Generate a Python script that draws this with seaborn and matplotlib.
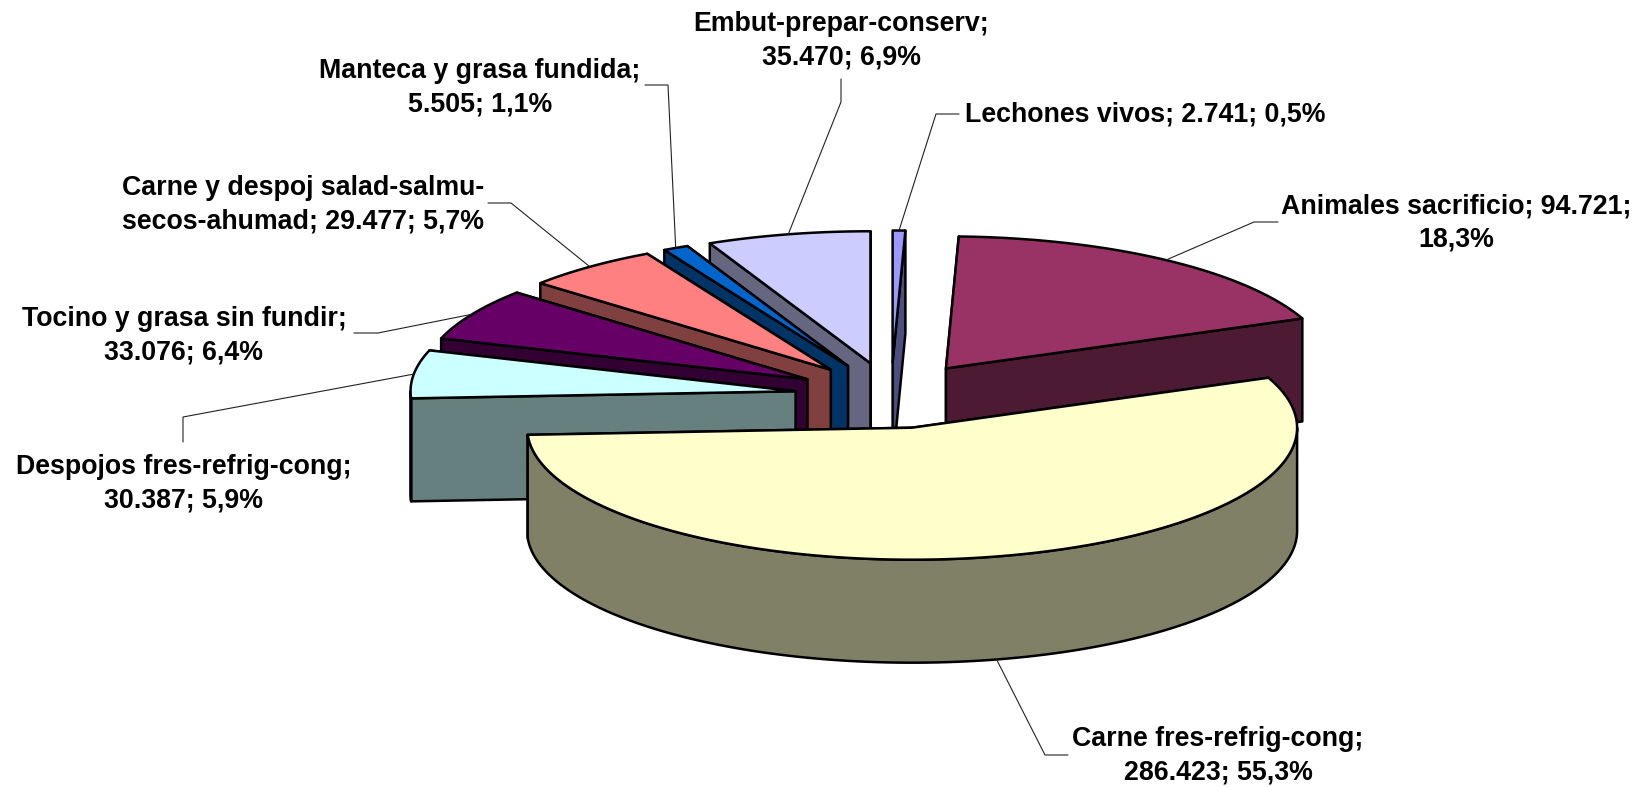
import numpy as np
import matplotlib
matplotlib.use("Agg")
import matplotlib.pyplot as plt
import seaborn as sns

# data, clockwise from 12 o'clock
names = ["Lechones vivos", "Animales sacrificio", "Carne fres-refrig-cong",
         "Despojos fres-refrig-cong", "Tocino y grasa sin fundir",
         "Carne y despoj salad-salmu-\nsecos-ahumad", "Manteca y grasa fundida",
         "Embut-prepar-conserv"]
values = [2741, 94721, 286423, 30387, 33076, 29477, 5505, 35470]
top_colors = ["#9999FF", "#993366", "#FFFFCC", "#CCFFFF", "#660066", "#FF8080", "#0066CC", "#CCCCFF"]

# where the label line breaks: after the name, after the value
breaks = [(" ", " "), (" ", "\n"), ("\n", " "), ("\n", " "), ("\n", " "), (" ", " "), ("\n", " "), ("\n", " ")]

# label centres and the two outer points of each leader (pixels of the figure)
label_xy = [(1145, 115), (1456, 223), (1218, 756), (184, 484), (184, 336), (303, 205), (480, 88), (841, 41)]
leader_pts = [[(959, 114), (936, 114)], [(1278, 222), (1254, 222)], [(1068, 755), (1045, 755)],
              [(183, 442), (183, 417)], [(354, 333), (378, 333)], [(488, 203), (511, 203)],
              [(645, 85), (668, 85)], [(841, 79), (841, 102)]]

# pie geometry
cx, cy = 891, 395.5
rx, ry = 385, 132
depth = 103
explode = 0.25

sns.set_theme(style="white")
plt.rcParams["font.family"] = ["Liberation Sans", "DejaVu Sans"]

fig, ax = plt.subplots(figsize=(16.41, 7.87), dpi=100)
ax.set_position([0, 0, 1, 1])
ax.set_xlim(0, 1641)
ax.set_ylim(787, 0)
ax.axis("off")

total = sum(values)
ends = np.cumsum(values) / total * 2 * np.pi
starts = np.r_[0, ends[:-1]]
mids = (starts + ends) / 2
apex_x = cx + explode * rx * np.sin(mids)
apex_y = cy - explode * ry * np.cos(mids)


def rim(i, t):
    return apex_x[i] + rx * np.sin(t), apex_y[i] - ry * np.cos(t)


def face(xs, ys, color):
    ax.fill(xs, ys, facecolor=color, edgecolor="black", linewidth=1.8, joinstyle="round")


# back slices first
for i in np.argsort(apex_y):
    top = np.array(sns.color_palette([top_colors[i]])[0])
    side = top * 0.5
    a, b = starts[i], ends[i]

    # cut faces, the hidden one goes down first
    cuts = sorted([(np.sin(a) < 0, a), (np.sin(b) > 0, b)], key=lambda c: c[0])
    for _, t in cuts:
        x, y = rim(i, t)
        face([apex_x[i], x, x, apex_x[i]], [apex_y[i], y, y + depth, apex_y[i] + depth], side)

    # outer wall, front half only
    lo, hi = max(a, np.pi / 2), min(b, 3 * np.pi / 2)
    if hi > lo:
        t = np.linspace(lo, hi, 120)
        x, y = rim(i, t)
        face(np.r_[x, x[::-1]], np.r_[y, y[::-1] + depth], side)

    t = np.linspace(a, b, 120)
    x, y = rim(i, t)
    face(np.r_[apex_x[i], x], np.r_[apex_y[i], y], top)

# leaders and labels
for i, name in enumerate(names):
    x, y = rim(i, mids[i])
    if np.cos(mids[i]) < -0.5:
        y = y + depth
    p = leader_pts[i]
    ax.plot([p[0][0], p[1][0], x], [p[0][1], p[1][1], y], color="#222222", linewidth=0.8, zorder=5)

    val = f"{values[i]:,}".replace(",", ".")
    pct = f"{100 * values[i] / total:.1f}".replace(".", ",")
    label = f"{name};{breaks[i][0]}{val};{breaks[i][1]}{pct}%"
    ax.text(label_xy[i][0], label_xy[i][1], label, ha="center", va="center", fontsize=19.3,
            fontweight="bold", color="black", linespacing=1.38, zorder=6)

fig.savefig("out.png", dpi=100, facecolor="white")
